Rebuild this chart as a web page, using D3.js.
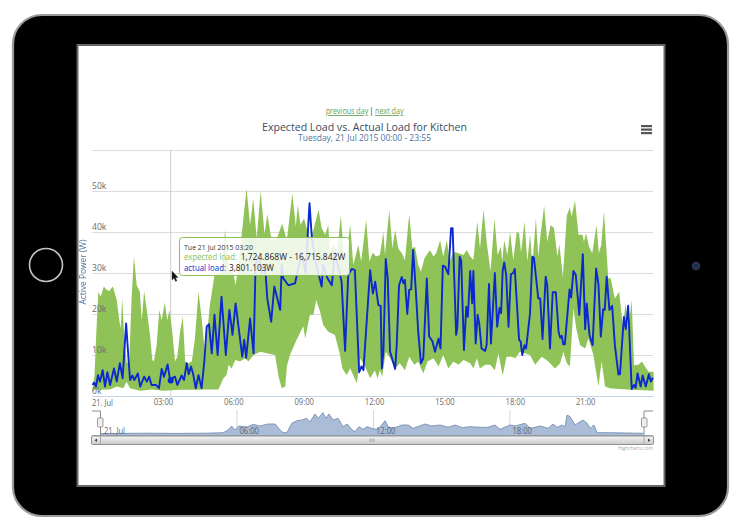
<!DOCTYPE html>
<html><head><meta charset="utf-8">
<script src="https://cdn.jsdelivr.net/npm/d3@7"></script>
<style>
html,body{margin:0;padding:0;background:#fff;overflow:hidden}
svg{display:block;filter:blur(0.42px)}
text{font-family:"Open Sans",sans-serif}
</style></head><body>
<svg id="c" width="750" height="525"></svg>
<script>
// [minutes since midnight, kW]
const upperBand=[[0,1.5],[5,5],[10,16],[15,25.4],[21,24.2],[29,26.7],[36,25.9],[43,25.6],[52,26.7],[62,23.4],[69,18.1],[72,16.5],[76,23.8],[82,13],[88,8],[94,8.5],[100,24],[106,34],[113,27],[121,25.4],[126,18.5],[132,25.6],[140,20.2],[147,14.9],[153,8.8],[157,8.4],[164,12.4],[171,21],[177,18.5],[185,22.8],[191,18.5],[197,21],[204,15.7],[211,8.4],[217,9.6],[224,15.7],[231,19.3],[237,8.4],[245,8],[254,8.4],[262,14],[271,25.4],[279,19],[288,10],[300,22],[312,29.5],[325,30],[332,32],[339,40.5],[348,31],[358,31],[366,27],[375,33],[384,41.6],[394,50.6],[403,41.7],[411,48.2],[420,38.5],[430,50],[440,39.5],[447,44.4],[458,38],[470,38],[485,42],[497,38],[511,49.4],[520,41.3],[525,46.6],[532,41.7],[541,43.3],[549,40.5],[556,38],[565,40.5],[578,45.4],[586,41],[595,39.3],[603,41.7],[607,35],[616,37],[626,35],[635,44],[642,35.6],[650,34.4],[659,41.9],[667,32],[680,36.8],[687,32.8],[700,43],[708,32.8],[717,35],[725,34],[735,34.4],[744,40],[748,34.4],[759,45.4],[767,36],[774,40.5],[782,36],[791,34.8],[799,33.2],[810,44.3],[818,36],[825,36.4],[833,32],[840,30.3],[849,33.6],[863,35.6],[872,34],[879,34.8],[889,38],[897,34],[906,38],[914,32.8],[923,35.2],[936,34.8],[949,34.4],[957,35.6],[966,34],[974,33.2],[984,42.5],[991,36],[1000,45.4],[1008,37.6],[1018,30.3],[1028,43.3],[1036,34.4],[1044,36.4],[1048,32.8],[1053,38],[1061,34.4],[1068,40],[1076,33.2],[1085,40],[1091,39.7],[1096,35],[1105,42.5],[1112,32.8],[1119,39.3],[1125,32],[1134,43.3],[1140,34],[1146,39.3],[1155,46.4],[1163,37.6],[1172,41.7],[1180,41],[1189,34],[1194,37],[1203,29],[1213,44],[1221,46],[1225,43.7],[1234,47.6],[1243,39.3],[1253,39.3],[1257,37.6],[1262,39.7],[1270,36.4],[1278,34.8],[1289,41.7],[1295,34.8],[1301,36.8],[1308,45],[1319,28.7],[1325,28.7],[1336,23.8],[1347,25.4],[1356,17.3],[1364,22.6],[1370,15.7],[1379,23.4],[1385,7.5],[1396,7.6],[1405,8.4],[1413,7.2],[1422,5.9],[1435,5.9]];
const lowerBand=[[0,1],[6,1.5],[45,1.6],[62,2.3],[79,1.9],[87,3.5],[96,1.9],[121,1.3],[151,1.6],[181,1.3],[224,1.5],[258,1.5],[292,1.6],[322,1.6],[335,4.3],[343,5.1],[348,7.6],[356,6.7],[365,8.8],[377,8.4],[390,9.2],[399,8.4],[412,10],[429,10.8],[446,10.4],[467,10],[476,4.7],[484,1.9],[493,2.3],[497,7.2],[505,10],[522,13.7],[539,17],[544,14],[556,19.8],[565,19.8],[572,23.4],[582,20.6],[590,17.3],[603,15.7],[620,14.9],[633,10],[639,6.7],[650,5.1],[659,6.7],[676,3.1],[684,9.2],[697,7.2],[710,4.3],[722,6.3],[729,4.3],[735,6.3],[741,4.7],[750,10.8],[761,9.2],[774,6.7],[786,8],[799,6.3],[810,9.6],[823,7.6],[833,8.4],[846,5.5],[857,8.4],[872,9.2],[885,7.2],[897,10],[910,6.7],[923,8.4],[936,7.6],[949,8.8],[966,8],[974,6.7],[983,9.2],[991,6.7],[1004,7.6],[1017,7.6],[1029,6.3],[1038,10.4],[1049,5],[1059,9.6],[1072,9.6],[1081,9.2],[1093,10.8],[1119,10],[1132,7.6],[1149,9.6],[1166,8.4],[1183,6.7],[1196,8],[1204,10.8],[1213,8],[1221,7.2],[1230,21.4],[1237,16.5],[1247,12.4],[1260,11.6],[1268,14],[1281,10],[1294,2.3],[1302,8.4],[1311,2.3],[1323,1.9],[1345,1.7],[1379,1.5],[1435,1.3]];
const actualLoad=[[0,2.7],[4,3.3],[9,2.3],[14,5.1],[19,3.5],[26,6.3],[32,2.3],[38,5.8],[45,2.7],[55,6.7],[62,3.5],[70,8],[77,4.3],[86,17.7],[92,9.2],[96,3.9],[102,5],[107,3.9],[116,5.5],[122,2.3],[132,4.7],[139,3.5],[145,4.7],[151,2.7],[162,2.7],[170,1.9],[177,6.6],[183,4.7],[192,7.7],[198,4.1],[211,4.7],[217,2.7],[228,5],[234,3.9],[241,8],[246,5.3],[252,7.2],[258,5.1],[264,1.9],[271,5.1],[279,1.9],[286,8.4],[292,16.9],[298,17.5],[305,10.4],[312,19.8],[320,10],[330,24.2],[341,10],[350,21],[358,14.9],[366,22.6],[375,15.7],[383,9.6],[388,13.7],[393,9.3],[403,18.9],[412,10.4],[417,32],[425,34],[432,30],[438,32],[443,29.5],[447,23.8],[457,18.1],[465,26.7],[480,21],[484,32],[488,28.7],[501,27],[518,27.5],[526,31],[535,35],[545,30],[555,47],[561,38.5],[570,33],[586,26.7],[590,32],[601,28.7],[612,27],[620,35],[637,27.9],[646,11],[654,29.5],[663,31],[671,30.7],[682,5.8],[688,7.2],[693,6.3],[710,30.7],[717,25],[723,27.9],[731,22.2],[737,22],[740,6.7],[744,10.8],[750,33.4],[755,28.7],[761,10.8],[765,9.6],[774,6.6],[778,12.4],[784,27],[791,29],[795,27.5],[799,28.3],[805,20],[810,25.9],[815,26],[820,35.6],[827,25.4],[833,15.7],[840,8],[846,9.2],[855,28.7],[861,14.5],[869,13.4],[876,10.8],[885,14],[890,11.6],[896,31.8],[902,31.5],[910,29.7],[917,40.9],[921,40.9],[930,14.9],[933,16.5],[939,34],[943,33],[950,11.2],[956,21.8],[960,19.3],[966,30.5],[971,22.6],[974,30.5],[980,12.8],[985,19.8],[989,17.7],[995,11.6],[1004,11],[1008,12.4],[1014,27.3],[1019,12.8],[1029,30],[1035,16.9],[1041,21.5],[1045,20.2],[1049,30.5],[1053,32.6],[1058,29.5],[1064,16.9],[1070,29.7],[1076,30],[1080,31],[1091,13.7],[1095,13.3],[1099,10],[1105,12.4],[1109,11.6],[1119,20.2],[1125,34],[1129,33.7],[1140,23.8],[1145,23.8],[1151,13.9],[1159,29.1],[1163,27],[1170,11.6],[1177,25.3],[1185,25.3],[1192,15.7],[1196,14.2],[1200,14.7],[1204,12.6],[1208,12.6],[1220,26],[1224,24],[1230,30.5],[1236,29.5],[1245,19.8],[1254,34.6],[1260,16.3],[1264,22.6],[1271,14.9],[1279,12.4],[1288,31.1],[1294,27.2],[1300,14.5],[1306,21.2],[1310,21],[1315,29.1],[1322,21],[1329,22],[1336,12.4],[1345,5.3],[1349,5.3],[1359,19.3],[1364,16.3],[1370,22],[1379,1.7],[1385,2.7],[1389,2],[1394,5.5],[1402,2.3],[1407,5],[1415,2.3],[1423,5.3],[1428,3.5],[1433,4.5]];
const navigatorLoad=[[0,1.5],[60,1.6],[120,1.8],[200,1.6],[280,1.8],[325,2.3],[338,5],[347,9],[356,5],[367,9],[388,8],[404,10.7],[422,9],[443,11],[462,11],[475,5],[483,2.3],[493,2.3],[506,11.7],[519,14.3],[533,15],[545,16.7],[554,13],[567,21],[576,16.7],[588,22.3],[596,16.7],[604,21],[615,15],[628,16.7],[641,8.3],[652,11],[665,5],[673,3.3],[683,8.3],[694,5.7],[704,8.3],[717,6.7],[725,6],[734,5.7],[752,14.3],[760,8.3],[773,6.7],[797,10],[813,10],[826,6.7],[858,11],[875,9],[897,10],[918,7.7],[937,10],[955,7.3],[976,8.3],[1003,7.7],[1024,7.7],[1042,10],[1055,5.7],[1082,10],[1095,9],[1121,11.7],[1135,6.7],[1161,9],[1182,6.7],[1195,11],[1206,7.7],[1219,10],[1227,8.3],[1232,20],[1240,18.3],[1253,10],[1274,15],[1285,11.7],[1293,6.7],[1303,10],[1311,2.3],[1345,2.3],[1433,1.7]];
const timeTicks=[180,360,540,720,900,1080,1260];
const timeLabels=["03:00","06:00","09:00","12:00","15:00","18:00","21:00"];
const navTicks=[360,720,1080];
const navLabels=["06:00","12:00","18:00"];
const powerTicks=[0,10,20,30,40,50];
const powerGrid=[0,10,20,30,40,50,60];
const hoverMinute=200, hoverActual=3.801;
const tooltipLines=["Tue 21 Jul 2015 03:20","expected load:","1,724.868W - 16,715.842W","actual load:","3,801.103W"];

const svg=d3.select("#c");
const GREEN="#8bc152",BLUE="#0b29cf",GREY="#6a6a6a";
const fit=(s,w)=>s.attr("textLength",w).attr("lengthAdjust","spacingAndGlyphs");
// device
svg.append("rect").attr("x",13).attr("y",15).attr("width",715).attr("height",501).attr("rx",29)
  .attr("fill","#000").attr("stroke","#9a9a9a").attr("stroke-width",2.2);
svg.append("rect").attr("x",77.5).attr("y",45).attr("width",587).attr("height",441)
  .attr("fill","#fff").attr("stroke","#666").attr("stroke-width",2);
svg.append("circle").attr("cx",46).attr("cy",265).attr("r",16.5).attr("fill","#000").attr("stroke","#c4c4c4").attr("stroke-width",1.6);
svg.append("circle").attr("cx",696).attr("cy",266).attr("r",3.8).attr("fill","#1e2f55").attr("stroke","#3a3f4a");

const x=d3.scaleLinear().domain([0,1435]).range([92.5,653.6]);
const y=d3.scaleLinear().domain([0,60]).range([396,150]);
const xn=d3.scaleLinear().domain([0,1435]).range([100,644]);
const yn=d3.scaleLinear().domain([0,25]).range([435,410]);

// grid
const grid=svg.append("g").attr("transform","translate(92,0)").call(d3.axisRight(y).tickValues(powerGrid).tickSize(561).tickFormat(""));
grid.select(".domain").remove();
grid.selectAll("line").attr("stroke","#dcdcdc").attr("stroke-width",1);

// crosshair
svg.append("line").attr("x1",x(hoverMinute)).attr("x2",x(hoverMinute)).attr("y1",150).attr("y2",396).attr("stroke","#cfcfcf").attr("stroke-width",1);

// band
const lineGen=d3.line().x(d=>x(d[0])).y(d=>y(d[1]));
svg.append("path").attr("d",lineGen(upperBand.concat(lowerBand.slice().reverse()))+"Z").attr("fill",GREEN).attr("fill-opacity",.97);
svg.append("path").attr("d",lineGen(actualLoad)).attr("fill","none").attr("stroke",BLUE).attr("stroke-width",1.9).attr("stroke-linejoin","round");
svg.append("circle").attr("cx",x(hoverMinute)).attr("cy",y(hoverActual)).attr("r",3).attr("fill",BLUE);

// axes
const ax=svg.append("g").attr("transform","translate(0,396)").call(d3.axisBottom(x).tickValues(timeTicks).tickFormat((d,i)=>timeLabels[i]).tickSize(0).tickPadding(3));
ax.select(".domain").attr("stroke","#c5d2e2");
ax.selectAll("text").attr("font-size",8.6).attr("fill",GREY).attr("font-family","Open Sans").call(fit,19.5);
fit(svg.append("text").attr("x",92).attr("y",406).attr("font-size",8.6).attr("fill",GREY).text("21. Jul"),21);
const ay=svg.append("g").attr("transform","translate(92,0)").call(d3.axisRight(y).tickValues(powerTicks).tickSize(0).tickPadding(0).tickFormat(d=>d+"k"));
ay.select(".domain").remove();
ay.selectAll("text").attr("font-size",8.6).attr("fill",GREY).attr("font-family","Open Sans").attr("dy","-0.3em").attr("x",0);
svg.append("text").attr("transform","translate(86,272) rotate(-90)").attr("text-anchor","middle").attr("font-size",8.6).attr("fill","#4d759e").call(fit,65).text("Active Power (W)");

// headers
fit(svg.append("text").attr("x",325.7).attr("y",114).attr("font-size",8.2).attr("fill","#5f9f52").attr("text-decoration","underline").text("previous day"),42.6);
svg.append("text").attr("x",371.5).attr("y",114).attr("text-anchor","middle").attr("font-size",8.2).attr("fill","#333").text("|");
fit(svg.append("text").attr("x",375).attr("y",114).attr("font-size",8.2).attr("fill","#5f9f52").attr("text-decoration","underline").text("next day"),28.5);
svg.append("text").attr("x",364.5).attr("y",131).attr("text-anchor","middle").attr("font-size",11).attr("fill","#3b4c60").call(fit,205).text("Expected Load vs. Actual Load for Kitchen");
svg.append("text").attr("x",364.5).attr("y",141).attr("text-anchor","middle").attr("font-size",8.8).attr("fill","#4d759e").call(fit,133).text("Tuesday, 21 Jul 2015 00:00 - 23:55");
svg.append("g").selectAll("rect").data([125,128.5,132]).join("rect").attr("x",641).attr("y",d=>d).attr("width",11).attr("height",2.2).attr("fill","#555");

// tooltip
const tt=svg.append("g");
tt.append("rect").attr("x",179.5).attr("y",237.5).attr("width",170).attr("height",38).attr("rx",3).attr("fill","#fff").attr("fill-opacity",.85).attr("stroke",GREEN).attr("stroke-width",1);
tt.append("text").attr("x",184).attr("y",250).attr("font-size",8).attr("fill","#333").call(fit,69).text(tooltipLines[0]);
tt.append("text").attr("x",184).attr("y",260).attr("font-size",8.6).attr("fill",GREEN).call(fit,53).text(tooltipLines[1]);
tt.append("text").attr("x",240.7).attr("y",260).attr("font-size",8.6).attr("fill","#222").call(fit,104.6).text(tooltipLines[2]);
tt.append("text").attr("x",184).attr("y",270.5).attr("font-size",8.6).attr("fill",BLUE).call(fit,42).text(tooltipLines[3]);
tt.append("text").attr("x",229).attr("y",270.5).attr("font-size",8.6).attr("fill","#222").call(fit,45).text(tooltipLines[4]);
// cursor
svg.append("path").attr("transform","translate(172,271)").attr("d","M0 0L0 9L2 7.2L3.6 10.4L5 9.8L3.5 6.8L6.2 6.6Z").attr("fill","#111").attr("stroke","#555").attr("stroke-width",.4);

// navigator
const navTick=svg.append("g").attr("transform","translate(0,410)").call(d3.axisBottom(xn).tickValues(navTicks).tickSize(25).tickFormat(""));
navTick.select(".domain").remove();
navTick.selectAll("line").attr("stroke","#d5d5d5");
const navArea=d3.area().x(d=>xn(d[0])).y0(yn(0)).y1(d=>yn(d[1]));
const navLine=d3.line().x(d=>xn(d[0])).y(d=>yn(d[1]));
svg.append("path").attr("d",navArea(navigatorLoad)).attr("fill","#aabcd6");
svg.append("path").attr("d",navLine(navigatorLoad)).attr("fill","none").attr("stroke","#7890b4").attr("stroke-width",.9);
svg.append("g").selectAll("text").data(navTicks).join("text").attr("x",d=>xn(d)+3).attr("y",434).attr("font-size",8.6).attr("fill","#5c6670").call(fit,19.5).text((d,i)=>navLabels[i]);
fit(svg.append("text").attr("x",104).attr("y",434).attr("font-size",8.6).attr("fill","#5c6670").text("21. Jul"),21);
svg.append("path").attr("d","M92 411H100.5V435M653 411H644V435").attr("fill","none").attr("stroke","#8a8a8a").attr("stroke-width",1);
svg.append("path").attr("d","M92 435.5H653").attr("stroke","#9aa5b5").attr("stroke-width",1);
svg.append("g").selectAll("rect").data([97.5,641.5]).join("rect").attr("x",d=>d).attr("y",418).attr("width",5.5).attr("height",9).attr("rx",1).attr("fill","#eee").attr("stroke","#888").attr("stroke-width",.8);

// scrollbar
const defs=svg.append("defs");
const g=defs.append("linearGradient").attr("id","sb").attr("x1",0).attr("x2",0).attr("y1",0).attr("y2",1);
g.append("stop").attr("offset",0).attr("stop-color","#f6f6f6");
g.append("stop").attr("offset",1).attr("stop-color","#c9c9c9");
svg.append("rect").attr("x",91.5).attr("y",436).attr("width",562).attr("height",8.5).attr("rx",1).attr("fill","url(#sb)").attr("stroke","#8f8f8f").attr("stroke-width",1);
svg.append("path").attr("d","M100.5 436V444.5M644 436V444.5").attr("stroke","#aaa");
svg.append("path").attr("d","M94.5 440.2L97 438.5V442ZM650.5 440.2L648 438.5V442Z").attr("fill","#444");
svg.append("path").attr("d","M370 438.5V442M372 438.5V442M374 438.5V442").attr("stroke","#999").attr("stroke-width",.8);
svg.append("text").attr("x",653).attr("y",450).attr("text-anchor","end").attr("font-size",4.8).attr("fill","#aaa").text("Highcharts.com");
</script>
</body></html>
